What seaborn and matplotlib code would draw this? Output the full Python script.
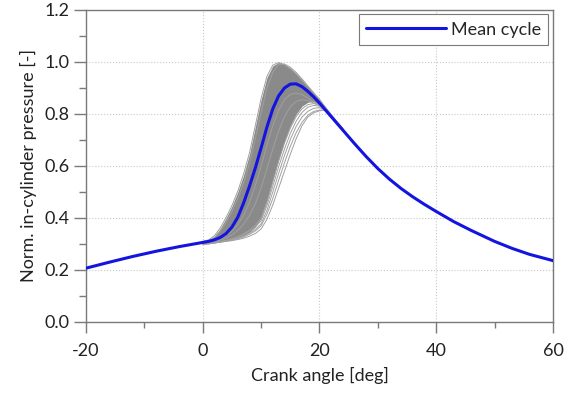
import numpy as np
import pandas as pd
import matplotlib
matplotlib.use("Agg")
import matplotlib.pyplot as plt
from matplotlib.ticker import MultipleLocator
import seaborn as sns

# ---------------- data ----------------
mean_angle = [-20, -16, -12, -8, -4, -2, 0, 1, 2, 3, 4, 5, 6, 7, 8, 9, 10, 11, 12, 13,
              14, 15, 16, 17, 18, 19, 20, 21, 22, 24, 26, 28, 30, 32, 34, 36, 38, 40,
              43, 46, 50, 53, 56, 60]
mean_p = [0.207, 0.230, 0.252, 0.272, 0.290, 0.298, 0.306, 0.310, 0.316, 0.325, 0.340,
          0.365, 0.403, 0.458, 0.522, 0.592, 0.670, 0.750, 0.820, 0.870, 0.900, 0.915,
          0.916, 0.905, 0.887, 0.866, 0.842, 0.816, 0.790, 0.738, 0.686, 0.636, 0.590,
          0.549, 0.513, 0.481, 0.452, 0.425, 0.386, 0.352, 0.310, 0.283, 0.260, 0.236]

# crank-angle grid of the individual cycles (combustion region)
cyc_angle = list(range(0, 25))

# dense band of cycles: early edge and late edge of the dense core
band_upper = [0.310, 0.315, 0.330, 0.360, 0.400, 0.445, 0.500, 0.565, 0.645, 0.750,
              0.855, 0.940, 0.985, 0.998, 0.990, 0.975, 0.955, 0.930, 0.905, 0.880,
              0.856, 0.826, 0.798, 0.770, 0.744]
band_lower = [0.300, 0.302, 0.305, 0.308, 0.312, 0.317, 0.323, 0.332, 0.345, 0.365,
              0.400, 0.465, 0.545, 0.625, 0.695, 0.755, 0.800, 0.830, 0.845, 0.848,
              0.835, 0.808, 0.784, 0.758, 0.733]

# individual cycles drawn as lines
cycle_early_a = [0.310, 0.316, 0.332, 0.362, 0.402, 0.448, 0.503, 0.570, 0.650, 0.755,
                 0.860, 0.945, 0.988, 0.998, 0.990, 0.975, 0.955, 0.930, 0.905, 0.880,
                 0.856, 0.826, 0.798, 0.770, 0.744]
cycle_early_b = [0.309, 0.313, 0.325, 0.350, 0.385, 0.425, 0.475, 0.535, 0.610, 0.705,
                 0.805, 0.900, 0.960, 0.990, 0.992, 0.980, 0.960, 0.935, 0.908, 0.882,
                 0.856, 0.826, 0.798, 0.770, 0.744]
cycle_mid_a = [0.305, 0.307, 0.312, 0.320, 0.332, 0.350, 0.375, 0.410, 0.460, 0.525,
               0.600, 0.680, 0.755, 0.815, 0.855, 0.875, 0.880, 0.875, 0.862, 0.848,
               0.835, 0.812, 0.790, 0.764, 0.738]
cycle_mid_b = [0.303, 0.305, 0.309, 0.315, 0.323, 0.335, 0.352, 0.376, 0.410, 0.455,
               0.515, 0.590, 0.665, 0.735, 0.790, 0.828, 0.848, 0.855, 0.852, 0.843,
               0.832, 0.812, 0.790, 0.764, 0.738]
cycle_late_a = [0.300, 0.300, 0.304, 0.307, 0.310, 0.313, 0.317, 0.322, 0.330, 0.340,
                0.358, 0.395, 0.450, 0.515, 0.580, 0.645, 0.705, 0.755, 0.788, 0.805,
                0.812, 0.815, 0.790, 0.764, 0.738]
cycle_late_b = [0.300, 0.301, 0.304, 0.307, 0.311, 0.315, 0.320, 0.327, 0.337, 0.350,
                0.370, 0.415, 0.475, 0.545, 0.612, 0.675, 0.728, 0.768, 0.795, 0.810,
                0.815, 0.815, 0.790, 0.764, 0.738]
cycle_late_c = [0.300, 0.301, 0.304, 0.308, 0.312, 0.317, 0.323, 0.331, 0.342, 0.355,
                0.378, 0.430, 0.500, 0.572, 0.640, 0.702, 0.752, 0.788, 0.810, 0.822,
                0.824, 0.815, 0.790, 0.764, 0.738]
cycle_late_d = [0.300, 0.302, 0.305, 0.309, 0.313, 0.319, 0.326, 0.336, 0.349, 0.365,
                0.390, 0.448, 0.522, 0.597, 0.665, 0.725, 0.772, 0.806, 0.826, 0.833,
                0.830, 0.816, 0.790, 0.764, 0.738]
cycle_late_e = [0.300, 0.302, 0.305, 0.309, 0.314, 0.320, 0.328, 0.339, 0.353, 0.372,
                0.400, 0.462, 0.540, 0.618, 0.688, 0.745, 0.790, 0.820, 0.836, 0.840,
                0.834, 0.816, 0.790, 0.764, 0.738]

x_ticks = [-20, 0, 20, 40, 60]
y_ticks = [0.0, 0.2, 0.4, 0.6, 0.8, 1.0, 1.2]

# ---------------- style ----------------
sns.set_theme(style="white")
plt.rcParams["font.family"] = ["Lato", "DejaVu Sans"]
plt.rcParams["font.size"] = 13

fig = plt.figure(figsize=(5.75, 3.93), dpi=100)
ax = fig.add_axes([0.1496, 0.1807, 0.8121, 0.7939])

grey = "#8a8a8a"

# dense cycle band
ax.fill_between(cyc_angle, band_lower, band_upper, color=grey, linewidth=0, zorder=2)

cycles = {
    "early_a": cycle_early_a, "early_b": cycle_early_b,
    "mid_a": cycle_mid_a, "mid_b": cycle_mid_b,
    "late_a": cycle_late_a, "late_b": cycle_late_b, "late_c": cycle_late_c,
    "late_d": cycle_late_d, "late_e": cycle_late_e,
}
df_cyc = pd.concat(
    [pd.DataFrame({"angle": cyc_angle, "p": v, "cycle": k}) for k, v in cycles.items()],
    ignore_index=True,
)
sns.lineplot(data=df_cyc, x="angle", y="p", units="cycle", estimator=None,
             color="#a0a0a0", linewidth=0.7, legend=False, ax=ax, zorder=3)

df_mean = pd.DataFrame({"angle": mean_angle, "p": mean_p})
sns.lineplot(data=df_mean, x="angle", y="p", color="#1414e0", linewidth=2.2,
             label="Mean cycle", ax=ax, zorder=5)

# ---------------- axes ----------------
ax.set_xlim(-20, 60)
ax.set_ylim(0, 1.2)
ax.set_xticks(x_ticks)
ax.set_xticklabels([str(t) for t in x_ticks])
ax.set_yticks(y_ticks)
ax.set_yticklabels([f"{t:.1f}" for t in y_ticks])
ax.xaxis.set_minor_locator(MultipleLocator(10))
ax.yaxis.set_minor_locator(MultipleLocator(0.1))

ax.grid(True, which="major", linestyle=":", color="#c8c8c8", linewidth=0.8, zorder=0)
ax.set_axisbelow(True)

for s in ax.spines.values():
    s.set_color("#7a7a7a")
    s.set_linewidth(1.0)

ax.tick_params(which="both", bottom=True, left=True, top=False, right=False,
               direction="out", color="#7a7a7a", width=1.0, labelcolor="#222222",
               labelsize=13)
ax.tick_params(axis="x", which="major", length=8, pad=7)
ax.tick_params(axis="x", which="minor", length=4)
ax.tick_params(axis="y", which="major", length=9, pad=3)
ax.tick_params(axis="y", which="minor", length=5)

ax.set_xlabel("Crank angle [deg]", fontsize=13, color="#222222", labelpad=6)
ax.set_ylabel("Norm. in-cylinder pressure [-]", fontsize=13, color="#222222", labelpad=5)

leg = ax.legend(loc="upper right", frameon=True, fancybox=False, edgecolor="#7a7a7a",
                framealpha=1, handlelength=4.4, fontsize=13, borderaxespad=0.25,
                borderpad=0.4, handletextpad=0.3)
leg.get_frame().set_linewidth(0.8)

fig.savefig("out.png", dpi=100)
